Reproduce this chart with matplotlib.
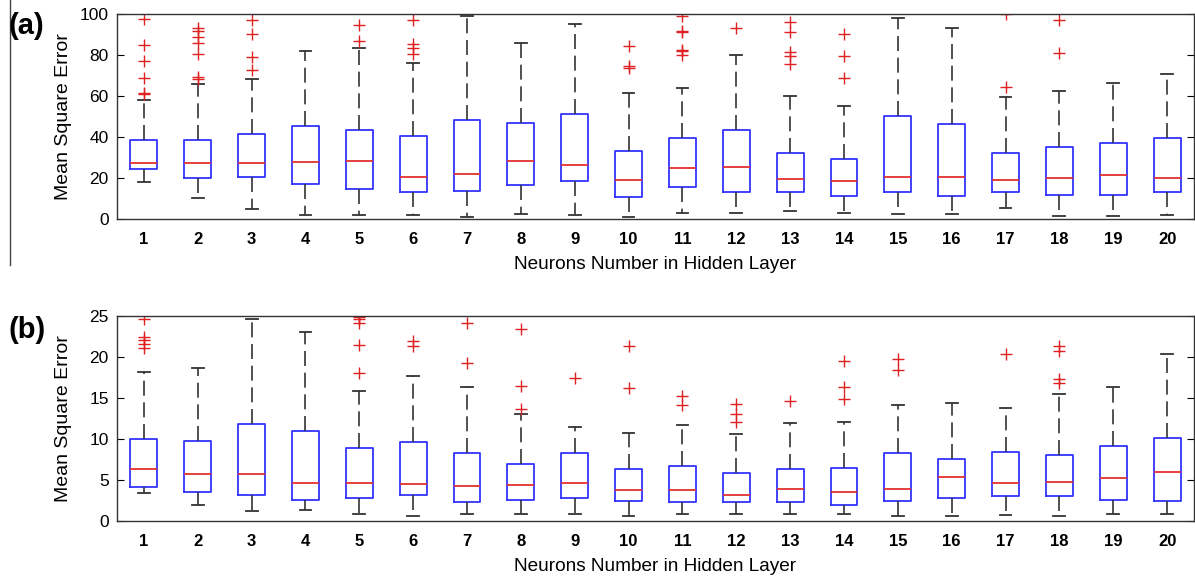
import numpy as np
import matplotlib
matplotlib.use('Agg')
import matplotlib.pyplot as plt
from matplotlib.lines import Line2D

plt.rcParams['font.family'] = ['Liberation Sans', 'DejaVu Sans']

neurons = list(range(1, 21))

# panel (a): box stats
a_q1 = [24.5, 20.2, 20.7, 17.1, 14.8, 13.4, 13.9, 16.8, 18.3, 10.8,
        15.8, 13.4, 13.4, 11.4, 13.4, 11.4, 13.4, 11.9, 11.9, 13.4]
a_med = [27.2, 27.2, 27.2, 27.9, 28.4, 20.4, 22.0, 28.2, 26.4, 18.9,
         24.8, 25.4, 19.4, 18.4, 20.4, 20.4, 18.9, 19.9, 21.5, 19.9]
a_q3 = [38.7, 38.7, 41.3, 45.2, 43.2, 40.3, 48.3, 46.8, 51.2, 33.3,
        39.3, 43.4, 32.3, 29.2, 50.2, 46.2, 32.3, 34.9, 36.9, 39.3]
a_lo = [17.9, 10.4, 4.9, 2.0, 2.0, 2.0, 0.8, 2.4, 2.0, 0.8,
        2.9, 2.9, 3.9, 2.9, 2.4, 2.4, 5.4, 1.5, 1.5, 2.0]
a_hi = [58.0, 66.0, 68.2, 82.0, 83.2, 76.3, 99.2, 85.8, 95.3, 61.5,
        63.9, 79.9, 60.2, 55.1, 98.0, 93.0, 59.7, 62.2, 66.1, 70.5]
a_out = [[61.0, 61.6, 69.0, 77.0, 84.7, 97.5],
         [68.5, 69.5, 80.3, 86.0, 89.0, 91.7, 93.3],
         [72.6, 78.8, 90.4, 96.9],
         [],
         [86.8, 94.6],
         [80.6, 83.2, 85.2, 96.9],
         [], [], [],
         [73.8, 74.6, 84.2],
         [79.9, 81.9, 82.5, 91.2, 91.6, 99.2],
         [93.0],
         [75.7, 79.6, 81.6, 91.0, 96.1],
         [68.7, 79.6, 90.2],
         [], [],
         [64.6, 99.9],
         [80.8, 96.9],
         [], []]

# panel (b)
b_q1 = [4.1, 3.5, 3.2, 2.6, 2.8, 3.2, 2.3, 2.6, 2.8, 2.4,
        2.3, 2.3, 2.3, 1.9, 2.4, 2.8, 3.1, 3.0, 2.6, 2.5]
b_med = [6.4, 5.7, 5.7, 4.6, 4.6, 4.5, 4.3, 4.4, 4.6, 3.8,
         3.8, 3.2, 3.9, 3.5, 3.9, 5.4, 4.6, 4.8, 5.3, 6.0]
b_q3 = [10.0, 9.7, 11.8, 11.0, 8.9, 9.6, 8.3, 6.9, 8.3, 6.4,
        6.7, 5.9, 6.3, 6.5, 8.3, 7.6, 8.4, 8.1, 9.2, 10.1]
b_lo = [3.4, 1.9, 1.2, 1.4, 0.9, 0.6, 0.9, 0.9, 0.8, 0.6,
        0.8, 0.8, 0.8, 0.8, 0.6, 0.6, 0.7, 0.6, 0.9, 0.9]
b_hi = [18.2, 18.7, 24.6, 23.0, 15.9, 17.7, 16.3, 13.0, 11.5, 10.7,
        11.7, 10.6, 12.0, 12.1, 14.1, 14.4, 13.8, 15.5, 16.3, 20.4]
b_out = [[21.1, 21.6, 22.1, 22.4, 24.6],
         [], [], [],
         [18.0, 21.5, 24.2, 24.6, 24.9],
         [21.3, 22.0],
         [19.3, 24.1],
         [13.7, 16.5, 23.4],
         [17.4],
         [16.2, 21.4],
         [14.1, 15.2],
         [12.1, 13.1, 14.3],
         [14.6],
         [14.9, 16.4, 19.5],
         [18.4, 19.8],
         [],
         [20.4],
         [16.8, 17.3, 20.7, 21.3],
         [], []]


def make_stats(q1, med, q3, lo, hi, out):
    return [dict(q1=q1[i], med=med[i], q3=q3[i], whislo=lo[i], whishi=hi[i],
                 fliers=out[i]) for i in range(len(q1))]


fig = plt.figure(figsize=(11.95, 5.83), dpi=100)
W, H = 1195.0, 583.0
ax_a = fig.add_axes([117 / W, 1 - 219 / H, 1077 / W, 205 / H])
ax_b = fig.add_axes([117 / W, 1 - 521 / H, 1077 / W, 205 / H])

panels = [(ax_a, make_stats(a_q1, a_med, a_q3, a_lo, a_hi, a_out), 100, [0, 20, 40, 60, 80, 100]),
          (ax_b, make_stats(b_q1, b_med, b_q3, b_lo, b_hi, b_out), 25, [0, 5, 10, 15, 20, 25])]

for ax, stats, ymax, yt in panels:
    ax.bxp(stats, positions=neurons, widths=0.5, capwidths=0.22,
           boxprops=dict(color='#3333ff', linewidth=1.3),
           medianprops=dict(color='#e23030', linewidth=1.3),
           whiskerprops=dict(color='#333333', linewidth=1.2, linestyle=(0, (9, 4))),
           capprops=dict(color='#333333', linewidth=1.3),
           flierprops=dict(marker='+', markeredgecolor='#e02020', markersize=8,
                           markeredgewidth=1.0, linestyle='none'))
    ax.set_xlim(0.5, 20.5)
    ax.set_ylim(0, ymax)
    ax.set_yticks(yt)
    ax.set_xticks(neurons)
    ax.set_xticklabels([str(n) for n in neurons], fontweight='bold', fontsize=12)
    ax.tick_params(axis='y', direction='in', right=True, length=5, labelsize=12.5, pad=6)
    ax.tick_params(axis='x', length=0, pad=9)
    for s in ax.spines.values():
        s.set_color('#333333')
        s.set_linewidth(1.0)
    ax.set_ylabel('Mean Square Error', fontsize=14)
    ax.yaxis.set_label_coords(-0.042, 0.5)
    ax.set_xlabel('Neurons Number in Hidden Layer', fontsize=13.7, labelpad=7)

fig.text(8 / W, 1 - 26 / H, '(a)', fontsize=21, fontweight='bold', va='center')
fig.text(8 / W, 1 - 330 / H, '(b)', fontsize=21, fontweight='bold', va='center')
fig.add_artist(Line2D([10 / W, 10 / W], [1 - 0 / H, 1 - 265 / H], color='#444444', linewidth=1.0))

fig.savefig('out.png', dpi=100)
